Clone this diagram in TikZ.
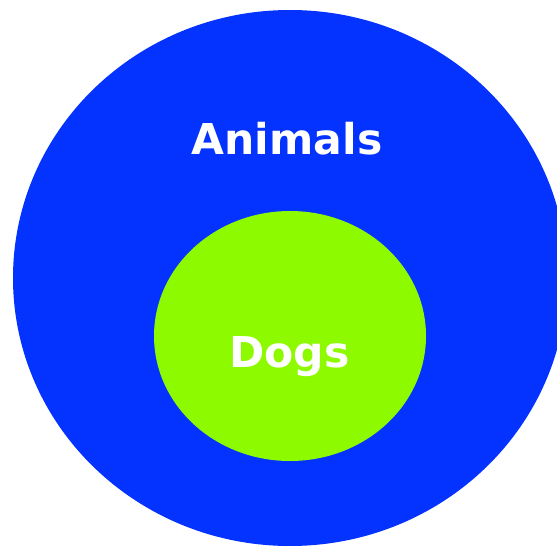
\documentclass[tikz,border=0pt]{standalone}
\usepackage{fontspec}
\setmainfont{DejaVu Sans}
\definecolor{setblue}{RGB}{4,51,255}
\definecolor{setgreen}{RGB}{142,250,0}
\begin{document}
\begin{tikzpicture}[x=1pt,y=-1pt,
  setlabel/.style={text=white,font=\fontsize{42.5}{42.5}\selectfont\bfseries,anchor=base,inner sep=0pt}]
\useasboundingbox (0,0) rectangle (557,546);
\clip (0,0) rectangle (557,546);
\fill[setblue] (290,278) ellipse [x radius=277, y radius=268];
\fill[setgreen] (290,336) ellipse [x radius=136, y radius=125];
\node[setlabel] (animals) at (287,154) {Animals};
\node[setlabel] (dogs) at (289.5,367) {Dogs};
\end{tikzpicture}
\end{document}
